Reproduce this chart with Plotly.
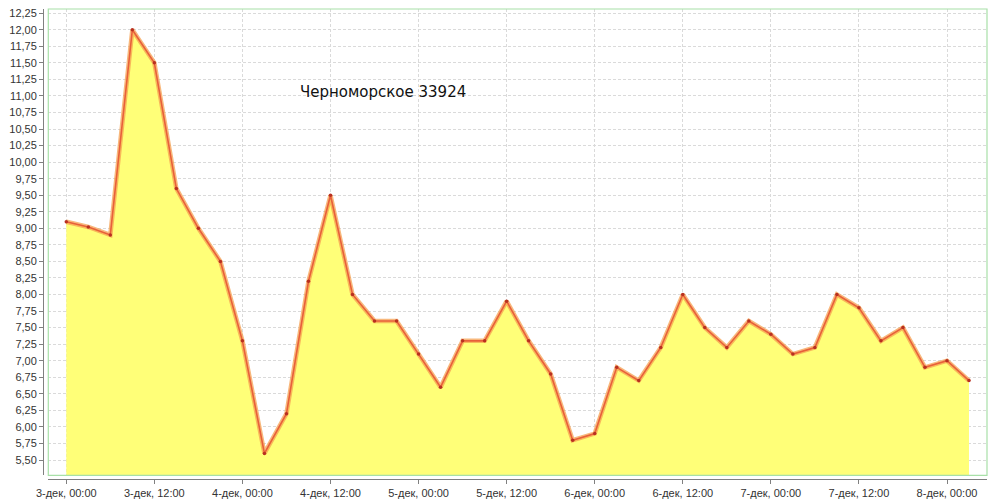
import plotly.graph_objects as go

# --- data ---
times = [
    "2013-12-03 00:00", "2013-12-03 03:00", "2013-12-03 06:00", "2013-12-03 09:00",
    "2013-12-03 12:00", "2013-12-03 15:00", "2013-12-03 18:00", "2013-12-03 21:00",
    "2013-12-04 00:00", "2013-12-04 03:00", "2013-12-04 06:00", "2013-12-04 09:00",
    "2013-12-04 12:00", "2013-12-04 15:00", "2013-12-04 18:00", "2013-12-04 21:00",
    "2013-12-05 00:00", "2013-12-05 03:00", "2013-12-05 06:00", "2013-12-05 09:00",
    "2013-12-05 12:00", "2013-12-05 15:00", "2013-12-05 18:00", "2013-12-05 21:00",
    "2013-12-06 00:00", "2013-12-06 03:00", "2013-12-06 06:00", "2013-12-06 09:00",
    "2013-12-06 12:00", "2013-12-06 15:00", "2013-12-06 18:00", "2013-12-06 21:00",
    "2013-12-07 00:00", "2013-12-07 03:00", "2013-12-07 06:00", "2013-12-07 09:00",
    "2013-12-07 12:00", "2013-12-07 15:00", "2013-12-07 18:00", "2013-12-07 21:00",
    "2013-12-08 00:00", "2013-12-08 03:00",
]
values = [
    9.10, 9.02, 8.90, 12.00, 11.50, 9.60, 9.00, 8.50,
    7.30, 5.60, 6.20, 8.20, 9.50, 8.00, 7.60, 7.60,
    7.10, 6.60, 7.30, 7.30, 7.90, 7.30, 6.80, 5.80,
    5.90, 6.90, 6.70, 7.20, 8.00, 7.50, 7.20, 7.60,
    7.40, 7.10, 7.20, 8.00, 7.80, 7.30, 7.50, 6.90,
    7.00, 6.70,
]
tick_vals = [
    "2013-12-03 00:00", "2013-12-03 12:00", "2013-12-04 00:00", "2013-12-04 12:00",
    "2013-12-05 00:00", "2013-12-05 12:00", "2013-12-06 00:00", "2013-12-06 12:00",
    "2013-12-07 00:00", "2013-12-07 12:00", "2013-12-08 00:00",
]
tick_text = [
    "3-дек, 00:00", "3-дек, 12:00", "4-дек, 00:00", "4-дек, 12:00",
    "5-дек, 00:00", "5-дек, 12:00", "6-дек, 00:00", "6-дек, 12:00",
    "7-дек, 00:00", "7-дек, 12:00", "8-дек, 00:00",
]
y_ticks = [5.50 + 0.25 * i for i in range(28)]
title_text = "Черноморское 33924"

fig = go.Figure()

# filled area
fig.add_trace(go.Scatter(
    x=times, y=values, mode="lines",
    line=dict(color="rgba(0,0,0,0)", width=0),
    fill="tozeroy", fillcolor="#ffff78",
    hoverinfo="skip", showlegend=False,
))
# glow line
fig.add_trace(go.Scatter(
    x=times, y=values, mode="lines",
    line=dict(color="rgba(245,160,80,0.75)", width=4.5),
    hoverinfo="skip", showlegend=False,
))
# core line with markers
fig.add_trace(go.Scatter(
    x=times, y=values, mode="lines+markers",
    line=dict(color="#e8603a", width=1.6),
    marker=dict(color="#b83020", size=3.5),
    showlegend=False,
))

# page body has an 8px margin; figure is shrunk to compensate
OFF = 8
L, T, R, B = 43 - OFF, 9 - OFF, 13, 21
W, H = 1000 - OFF, 500 - OFF
pw = W - L - R
ph = H - T - B
x0 = 5.3 / pw
y0 = 3.7 / ph

fig.update_layout(
    width=W, height=H,
    margin=dict(l=L, r=R, t=T, b=B, autoexpand=False),
    paper_bgcolor="white", plot_bgcolor="white",
    separators=", ",
    font=dict(family="Liberation Sans, Arial, sans-serif", size=11, color="#333333"),
    xaxis=dict(
        type="date",
        domain=[x0, 1], anchor="free", position=0,
        range=["2013-12-02 21:33", "2013-12-08 05:27"],
        tickmode="array", tickvals=tick_vals, ticktext=tick_text,
        ticks="outside", ticklen=4, tickcolor="#808080",
        showline=True, linecolor="#808080", linewidth=1,
        showgrid=True, gridcolor="#dadada", griddash="3px,2px", gridwidth=1,
        zeroline=False, automargin=False, ticklabeloverflow="allow",
        tickfont=dict(size=11, color="#333333"),
    ),
    yaxis=dict(
        domain=[y0, 1], anchor="free", position=0,
        range=[5.269, 12.313],
        tickmode="array", tickvals=y_ticks, tickformat=".2f",
        ticks="outside", ticklen=4, tickcolor="#808080",
        showline=True, linecolor="#808080", linewidth=1,
        showgrid=True, gridcolor="#dadada", griddash="3px,2px", gridwidth=1,
        zeroline=False, automargin=False, ticklabeloverflow="allow",
        tickfont=dict(size=11, color="#333333"),
    ),
    shapes=[dict(
        type="rect", xref="paper", yref="paper",
        x0=x0, x1=1, y0=y0, y1=1,
        line=dict(color="#a8e0a8", width=1.2), fillcolor="rgba(0,0,0,0)",
        layer="above",
    )],
    annotations=[dict(
        text=title_text, xref="paper", yref="paper",
        x=(383 - 43) / pw, y=(479 - 92) / ph,
        xanchor="center", yanchor="middle", showarrow=False,
        font=dict(family="DejaVu Sans, sans-serif", size=15, color="#111111"),
    )],
)

fig.write_html("out.html")
